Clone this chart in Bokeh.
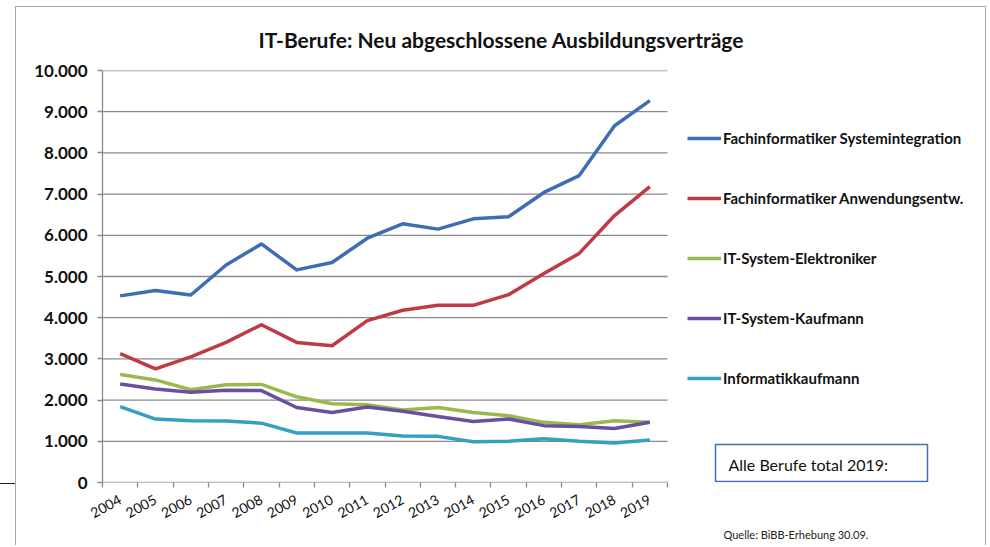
from bokeh.plotting import figure
from bokeh.models import (Range1d, FixedTicker, Legend, LegendItem, Label,
                          BoxAnnotation, Title)
from bokeh.embed import file_html
from bokeh.resources import INLINE

# ---- data -------------------------------------------------------------
years = ["2004", "2005", "2006", "2007", "2008", "2009", "2010", "2011",
         "2012", "2013", "2014", "2015", "2016", "2017", "2018", "2019"]

fachinf_systemintegration = [4530, 4660, 4550, 5280, 5790, 5160, 5340, 5930,
                             6280, 6150, 6400, 6450, 7040, 7450, 8660, 9270]
fachinf_anwendungsentw = [3130, 2760, 3050, 3400, 3830, 3400, 3320, 3930,
                          4180, 4300, 4300, 4560, 5070, 5560, 6480, 7180]
it_system_elektroniker = [2620, 2490, 2250, 2370, 2380, 2080, 1910, 1890,
                          1760, 1820, 1700, 1620, 1460, 1400, 1500, 1460]
it_system_kaufmann = [2390, 2270, 2190, 2240, 2230, 1820, 1700, 1830,
                      1730, 1600, 1480, 1540, 1380, 1360, 1310, 1460]
informatikkaufmann = [1840, 1540, 1500, 1490, 1440, 1200, 1200, 1200,
                      1130, 1120, 990, 1000, 1060, 1000, 960, 1030]

series_names = ["Fachinformatiker Systemintegration",
                "Fachinformatiker Anwendungsentw.",
                "IT-System-Elektroniker",
                "IT-System-Kaufmann",
                "Informatikkaufmann"]
series_values = [fachinf_systemintegration, fachinf_anwendungsentw,
                 it_system_elektroniker, it_system_kaufmann, informatikkaufmann]
series_colors = ["#3d6db3", "#bf3a44", "#9bb84e", "#6a4fa0", "#32a1c2"]

y_ticks = [0, 1000, 2000, 3000, 4000, 5000, 6000, 7000, 8000, 9000, 10000]
y_tick_labels = ["0", "1.000", "2.000", "3.000", "4.000", "5.000",
                 "6.000", "7.000", "8.000", "9.000", "10.000"]

title_text = "IT-Berufe: Neu abgeschlossene Ausbildungsverträge"
box_text = "Alle Berufe total 2019:"
source_text = "Quelle: BiBB-Erhebung 30.09."

# ---- layout constants (pixels) ----------------------------------------
W, H = 988, 545
F_LEFT, F_TOP, F_RIGHT, F_BOTTOM = 102, 70, 977, 482
frame_w = F_RIGHT - F_LEFT
frame_h = F_BOTTOM - F_TOP
n = len(years)
px_per_cat = 565 / n                 # category width of the plotting area
x_end = frame_w / px_per_cat         # extra room on the right for legend/box
y_max = y_ticks[-1]
px_to_y = y_max / frame_h

xs = [i + 0.5 for i in range(n)]
grid_col = "#8a8a8a"

p = figure(width=W, height=H,
           x_range=Range1d(0, x_end), y_range=Range1d(0, y_max),
           output_backend="svg", toolbar_location=None,
           min_border_left=F_LEFT, min_border_right=W - F_RIGHT,
           min_border_top=F_TOP, min_border_bottom=H - F_BOTTOM)
p.outline_line_color = None
p.background_fill_color = "white"
p.border_fill_alpha = 0
bg = ("linear-gradient(#a6a6a6,#a6a6a6) 15px 6px / 1px 100% no-repeat, "
      "linear-gradient(#a6a6a6,#a6a6a6) 15px 6px / 970px 1px no-repeat, "
      "linear-gradient(#a6a6a6,#a6a6a6) 985px 6px / 1px 100% no-repeat, "
      "linear-gradient(#222,#222) 0px 483px / 15px 1px no-repeat, white")
p.styles = {"background": bg}

p.title.text = title_text
p.title.align = "left"
p.title.offset = 156
p.title.text_font = "Lato"
p.title.text_font_style = "bold"
p.title.text_font_size = "21px"
p.title.text_color = "#111111"
p.title.standoff = 38

# x axis: labels at category centres, tick marks at boundaries
p.xaxis.ticker = FixedTicker(ticks=xs, minor_ticks=list(range(n + 1)))
p.xaxis.major_label_overrides = {x: y for x, y in zip(xs, years)}
p.xaxis.major_tick_line_color = None
p.xaxis.minor_tick_line_color = grid_col
p.xaxis.minor_tick_line_width = 1.3
p.xaxis.minor_tick_out = 5
p.xaxis.minor_tick_in = 0
p.xaxis.axis_line_color = None
p.xaxis.major_label_orientation = 0.5
p.xaxis.major_label_standoff = 10
p.xaxis.major_label_text_font = "Lato"
p.xaxis.major_label_text_font_size = "14px"
p.xaxis.major_label_text_color = "#111111"
p.xgrid.visible = False

# y axis
p.yaxis.ticker = FixedTicker(ticks=y_ticks, minor_ticks=[])
p.yaxis.major_label_overrides = {t: l for t, l in zip(y_ticks, y_tick_labels)}
p.yaxis.major_tick_line_color = grid_col
p.yaxis.major_tick_line_width = 1.3
p.yaxis.major_tick_out = 5
p.yaxis.major_tick_in = 0
p.yaxis.minor_tick_line_color = None
p.yaxis.axis_line_color = grid_col
p.yaxis.axis_line_width = 1.3
p.yaxis.major_label_standoff = 10
p.yaxis.major_label_text_font = "Lato"
p.yaxis.major_label_text_font_style = "bold"
p.yaxis.major_label_text_font_size = "17px"
p.yaxis.major_label_text_color = "#111111"
p.ygrid.visible = False

# horizontal gridlines only across the category area
p.segment(x0=[0] * len(y_ticks), x1=[n] * len(y_ticks), y0=y_ticks, y1=y_ticks,
          line_color=grid_col, line_width=1.3)

# lines
items = []
for name, vals, col in zip(series_names, series_values, series_colors):
    r = p.line(xs, vals, line_color=col, line_width=3.5, line_join="round")
    items.append(LegendItem(label=name, renderers=[r]))

legend = Legend(items=items, location=(585, 94), orientation="vertical",
                padding=0, margin=0, spacing=40,
                glyph_width=34, glyph_height=20, label_height=20,
                label_standoff=2, border_line_color=None,
                background_fill_alpha=0,
                label_text_font="Lato", label_text_font_style="bold",
                label_text_font_size="15px", label_text_color="#111111")
p.add_layout(legend, "center")

# "Alle Berufe total 2019:" box (placed right of the plotting area)
box = BoxAnnotation(left=(715 - F_LEFT) / px_per_cat,
                    right=(927 - F_LEFT) / px_per_cat,
                    bottom=1 * px_to_y, top=(F_BOTTOM - 444) * px_to_y,
                    fill_color="white", fill_alpha=1,
                    line_color="#3f6fc0", line_alpha=1, line_width=1.5)
p.add_layout(box)
box_label = Label(x=(728 - F_LEFT) / px_per_cat, y=(F_BOTTOM - 464) * px_to_y,
                  text=box_text, text_align="left", text_baseline="middle",
                  text_font="Lato", text_font_size="16px", text_color="#111111")
p.add_layout(box_label)

src = Title(text=source_text, align="left", offset=723 - F_LEFT,
            text_font="Lato", text_font_style="normal",
            text_font_size="11px", text_color="#222222", standoff=0)
p.add_layout(src, "below")

open("out.html", "w").write(file_html(p, INLINE))
